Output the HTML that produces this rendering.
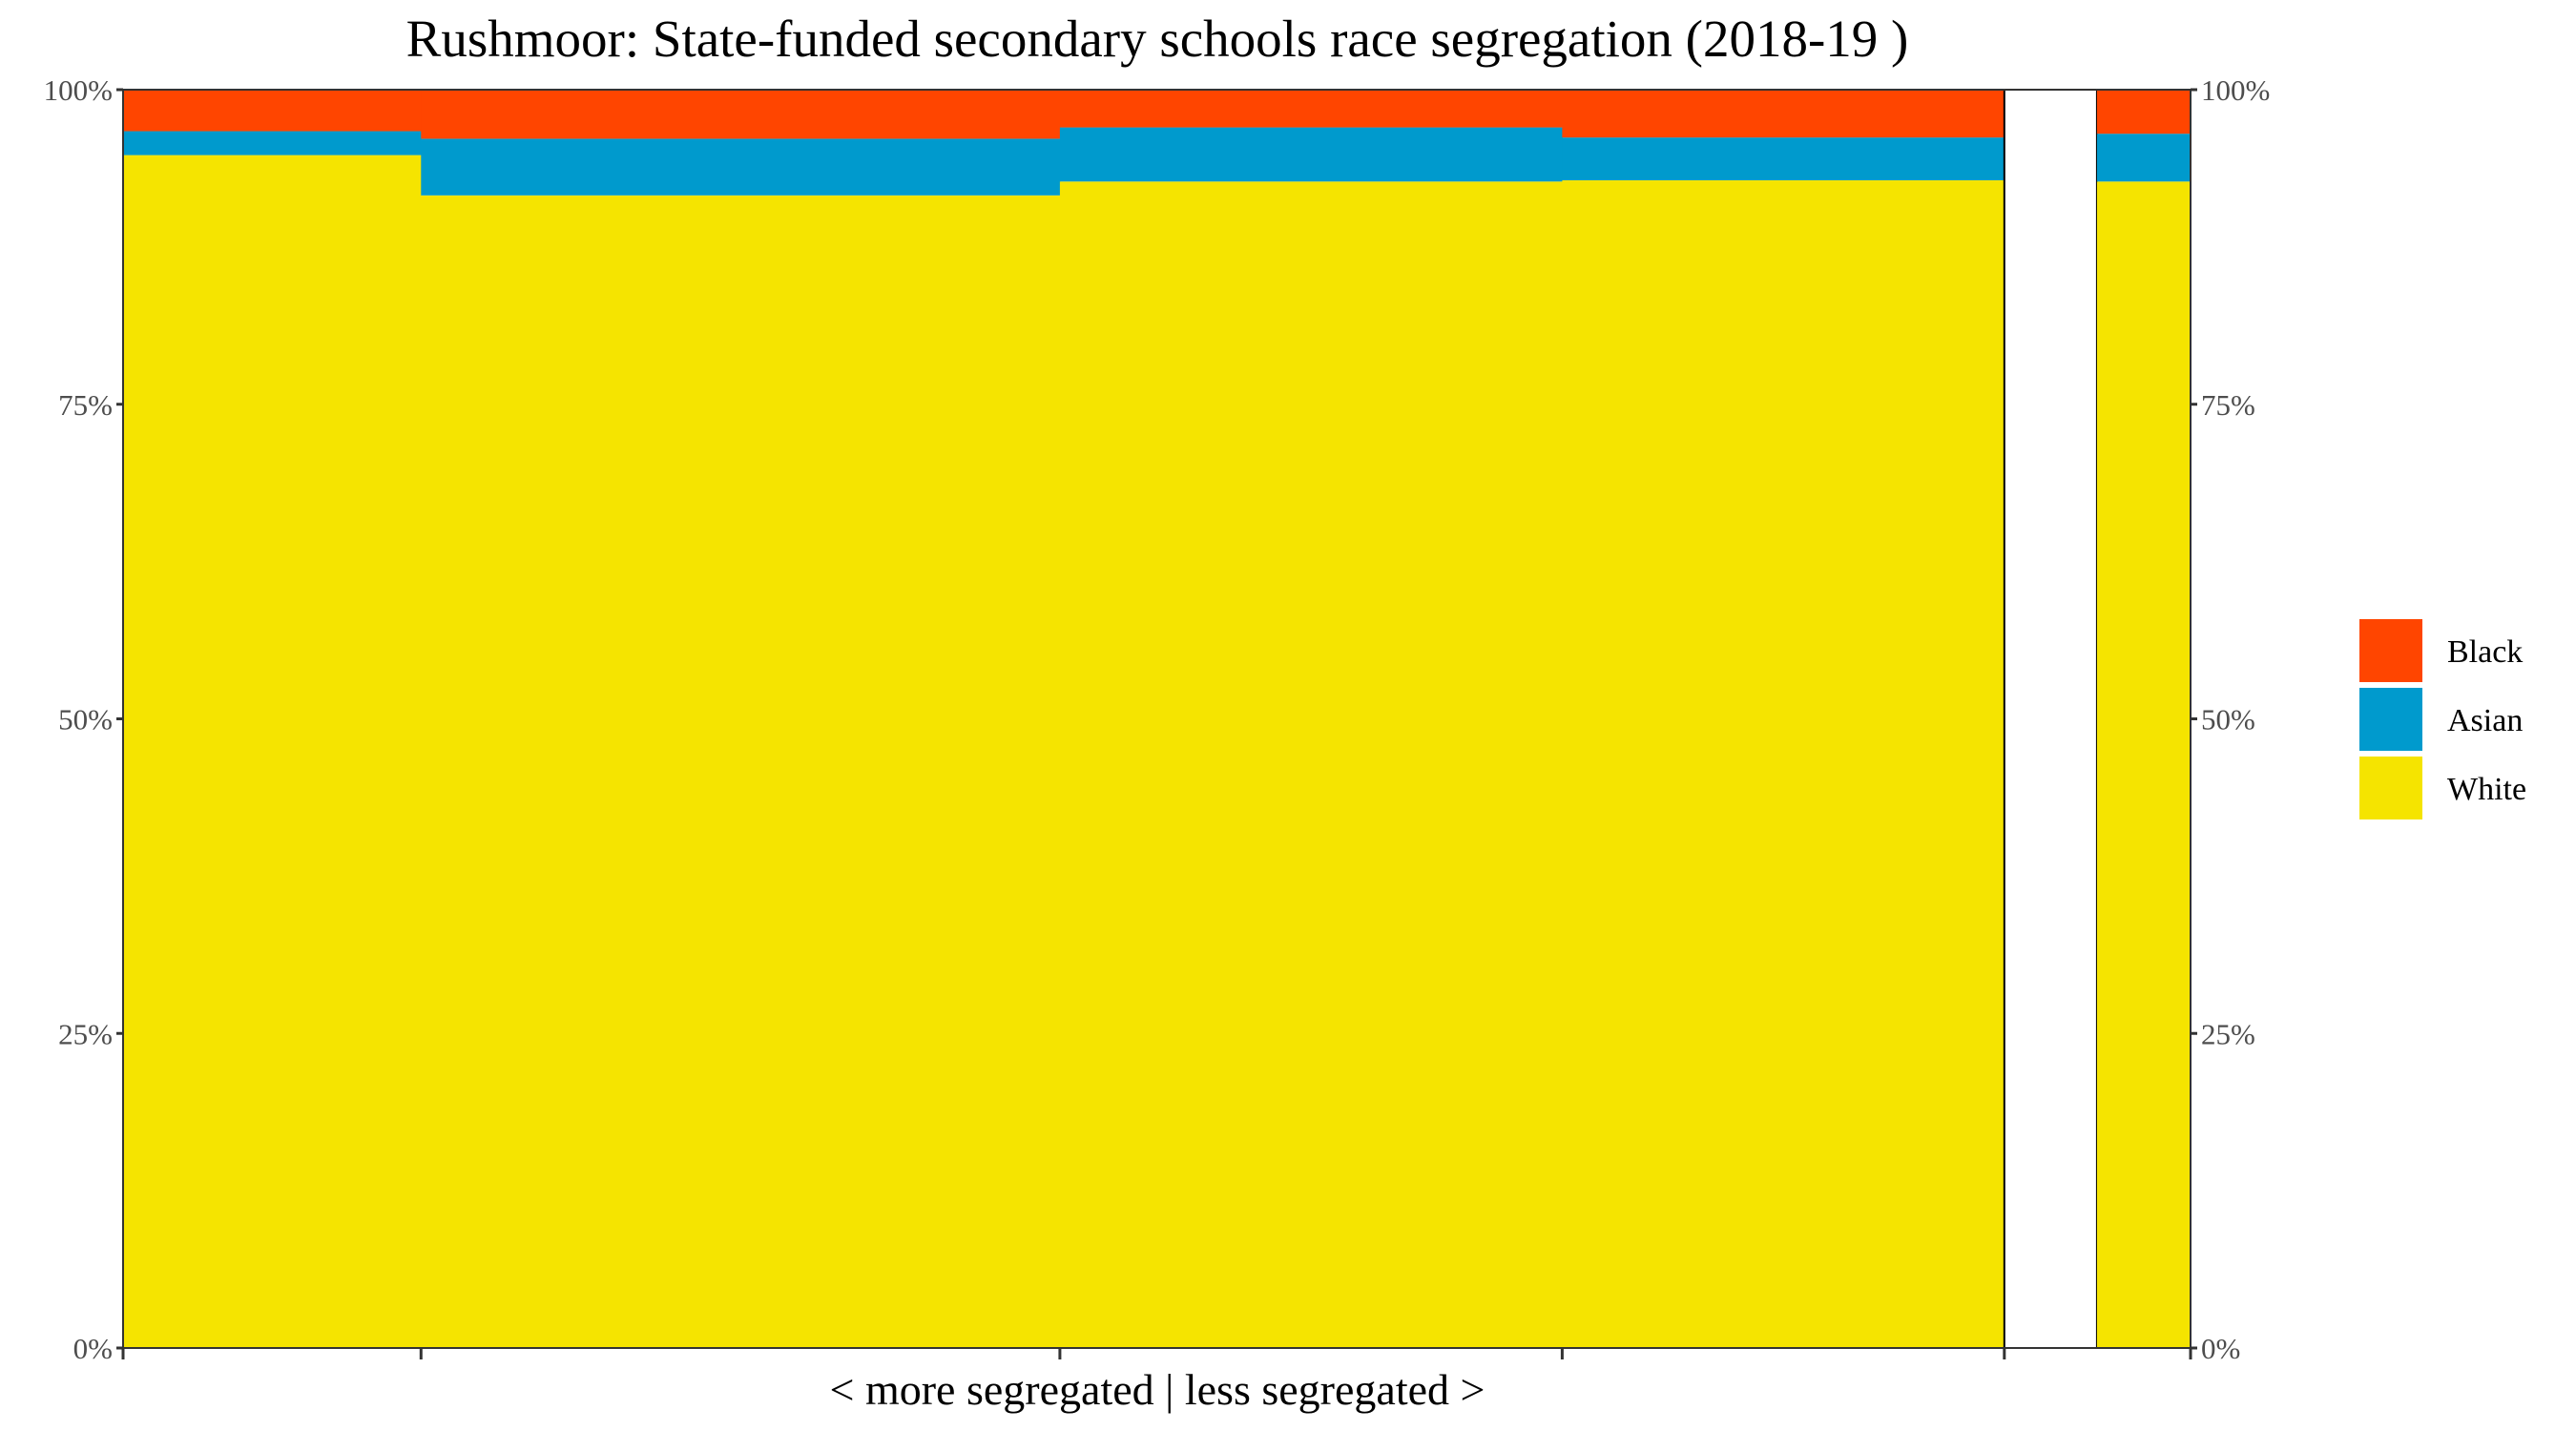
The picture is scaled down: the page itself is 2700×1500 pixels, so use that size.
<!DOCTYPE html>
<html><head><meta charset="utf-8"><style>
html,body{margin:0;padding:0;background:#fff;}
svg{display:block;font-family:"Liberation Serif",serif;}
</style></head><body>
<svg id="chart" width="2700" height="1500" viewBox="0 0 2700 1500" xmlns="http://www.w3.org/2000/svg">
<text x="1213" y="59" font-size="55" text-anchor="middle" fill="#000">Rushmoor: State-funded secondary schools race segregation (2018-19 )</text>
<g id="bars"></g>
<g id="axes"></g>
<text x="1213" y="1472" font-size="46" text-anchor="middle" fill="#000">&lt; more segregated | less segregated &gt;</text>
<g>
<rect x="2473" y="649" width="66" height="66" fill="#FF4500"/>
<text x="2565" y="694" font-size="34" fill="#000">Black</text>
<rect x="2473" y="721" width="66" height="66" fill="#009ACD"/>
<text x="2565" y="766" font-size="34" fill="#000">Asian</text>
<rect x="2473" y="793" width="66" height="66" fill="#F5E400"/>
<text x="2565" y="838" font-size="34" fill="#000">White</text>
</g>
</svg>
<script>
const groups = ["s1","s2","s3","s4","gap","s6"];
const widths = [312, 669, 526, 463, 97, 98];
const whiteVals = [94.8, 91.6, 92.7, 92.8, 0, 92.7];
const asianVals = [1.9, 4.5, 4.3, 3.4, 0, 3.8];
const blackVals = [3.3, 3.9, 3.0, 3.8, 0, 3.5];
const yTicks = [0, 25, 50, 75, 100];
const yTickLabels = ["0%", "25%", "50%", "75%", "100%"];

const NS = "http://www.w3.org/2000/svg";
const X0 = 129, X1 = 2296, Y0 = 1413, Y1 = 94;
const totalW = widths.reduce((a,b)=>a+b,0);
const xScale = v => X0 + v / totalW * (X1 - X0);
const yScale = v => Y0 - v / 100 * (Y0 - Y1);
function mk(tag, attrs, parent){const e=document.createElementNS(NS,tag);for(const k in attrs)e.setAttribute(k,attrs[k]);parent.appendChild(e);return e;}
const bars = document.getElementById("bars");
const axes = document.getElementById("axes");
let cum = 0;
const bounds = [0];
groups.forEach((g,i)=>{
  const xa = xScale(cum), xb = xScale(cum + widths[i]);
  cum += widths[i]; bounds.push(cum);
  const stack = [["white", whiteVals[i], "#F5E400"], ["asian", asianVals[i], "#009ACD"], ["black", blackVals[i], "#FF4500"]];
  let base = 0;
  stack.forEach(([name, v, col])=>{
    if (v <= 0) return;
    const top = name === "black" ? 100 : base + v;
    const r = mk("rect", {x: xa, y: yScale(top), width: xb - xa + 0.5, height: yScale(base) - yScale(top), fill: col}, bars);
    
    
    base += v;
  });
  if (g === "gap") {
    [xa, xb].forEach(xx=>{
      const l = mk("line", {x1: xx, x2: xx, y1: Y1, y2: Y0, stroke: "#000", "stroke-width": 2}, bars);
      
      
    });
  }
});
const fr = mk("rect", {x: X0, y: Y1, width: X1 - X0, height: Y0 - Y1, fill: "none", stroke: "#333", "stroke-width": 2}, axes);


yTicks.forEach((t,i)=>{
  const y = yScale(t);
  const tl = mk("line", {x1: X0 - 7, x2: X0, y1: y, y2: y, stroke: "#333", "stroke-width": 3}, axes);
  
  
  const tr = mk("line", {x1: X1, x2: X1 + 7, y1: y, y2: y, stroke: "#333", "stroke-width": 3}, axes);
  
  
  const ll = mk("text", {x: X0 - 11, y: y + 11, "font-size": 31, "text-anchor": "end", fill: "#4d4d4d"}, axes);
  ll.textContent = yTickLabels[i];
  
  
  const lr = mk("text", {x: X1 + 11, y: y + 11, "font-size": 31, "text-anchor": "start", fill: "#4d4d4d"}, axes);
  lr.textContent = yTickLabels[i];
  
  
});
bounds.forEach((b,i)=>{
  if (i === bounds.length - 2) return;
  const x = xScale(b);
  const t = mk("line", {x1: x, x2: x, y1: Y0, y2: Y0 + 12, stroke: "#333", "stroke-width": 3}, axes);
  
  
});
</script>
</body></html>
